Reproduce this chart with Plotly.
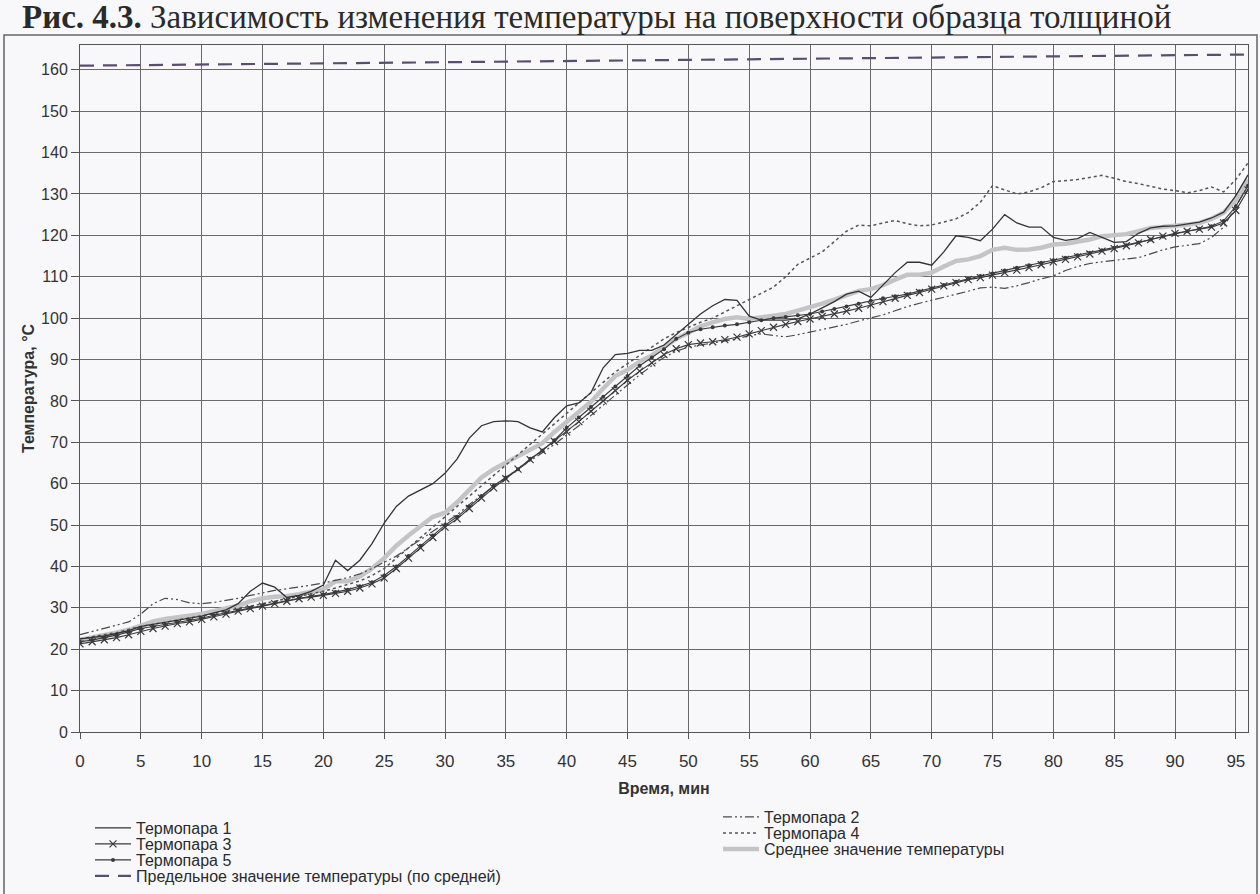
import plotly.graph_objects as go

minutes = list(range(0, 97))

t1 = [22.5, 22.8, 23.2, 23.8, 24.5, 25.5, 26.0, 26.5, 27.0, 27.5,
      28.0, 28.8, 29.5, 31.0, 34.0, 36.0, 35.0, 32.5, 33.0, 34.0,
      35.5, 41.5, 39.0, 41.5, 45.5, 50.5, 54.5, 57.0, 58.5, 60.0,
      62.5, 66.0, 71.0, 74.0, 75.0, 75.2, 75.0, 73.5, 72.5, 76.0,
      78.8, 79.5, 82.0, 88.0, 91.2, 91.5, 92.2, 92.2, 93.5, 96.0,
      98.5, 101.0, 103.0, 104.5, 104.3, 100.5, 99.5, 99.5, 99.5, 99.8,
      101.0, 102.5, 104.0, 105.8, 106.5, 105.0, 108.0, 111.0, 113.5, 113.5,
      112.8, 116.0, 119.9, 119.5, 118.7, 121.5, 125.0, 123.0, 122.0, 122.0,
      119.5, 118.8, 119.2, 120.7, 119.5, 118.3, 118.5, 120.5, 121.8, 122.2,
      122.3, 122.7, 123.2, 124.2, 125.6, 129.6, 134.6]

t2 = [23.5, 24.3, 25.0, 25.8, 26.6, 28.5, 31.0, 32.3, 32.0, 31.2,
      31.0, 31.3, 31.8, 32.3, 33.0, 33.6, 34.2, 34.6, 35.0, 35.5,
      36.0, 36.6, 37.3, 38.2, 39.5, 41.0, 42.5, 44.5, 46.5, 48.5,
      50.5, 52.5, 55.0, 57.2, 59.5, 61.5, 63.5, 65.5, 67.5, 69.5,
      71.8, 74.0, 76.5, 79.0, 81.5, 84.0, 86.3, 88.5, 90.5, 92.0,
      93.0, 93.5, 94.0, 94.5, 95.0, 95.8, 96.2, 95.8, 95.5, 96.0,
      96.6, 97.2, 97.8, 98.5, 99.3, 100.0, 100.8, 101.8, 102.8, 103.6,
      104.3, 105.0, 105.8, 106.5, 107.3, 107.5, 107.2, 107.8, 108.6, 109.5,
      110.2, 111.5, 112.5, 113.2, 113.6, 114.0, 114.3, 114.6, 115.5, 116.5,
      117.2, 117.6, 118.0, 119.5, 122.0, 127.0, 132.0]

t3 = [21.3, 21.8, 22.3, 22.8, 23.5, 24.3, 25.0, 25.6, 26.2, 26.6,
      27.2, 27.8, 28.5, 29.2, 29.8, 30.4, 31.0, 31.6, 32.2, 32.6,
      33.0, 33.5, 34.0, 34.8, 35.8, 37.2, 39.5, 42.0, 44.5, 47.0,
      49.5, 51.5, 54.0, 56.5, 59.0, 61.2, 63.5, 65.8, 68.0, 70.2,
      72.5, 75.0, 77.5, 80.0, 82.5, 85.0, 87.2, 89.2, 91.2, 92.6,
      93.6, 94.0, 94.3, 94.8, 95.4, 96.2, 97.0, 97.8, 98.5, 99.2,
      99.8, 100.4, 101.0, 101.7, 102.4, 103.2, 104.0, 104.8, 105.5, 106.2,
      107.0, 107.8, 108.6, 109.3, 109.8, 110.4, 111.0, 111.6, 112.2, 112.9,
      113.6, 114.2, 114.8, 115.5, 116.2, 116.8, 117.5, 118.2, 119.0, 119.8,
      120.5, 121.0, 121.5, 122.0, 123.0, 126.0, 131.0]

t4 = [22.5, 23.0, 23.5, 24.0, 24.8, 25.5, 26.0, 26.5, 27.0, 27.5,
      28.0, 28.6, 29.2, 29.8, 30.4, 31.0, 31.6, 32.2, 32.8, 33.4,
      34.0, 34.8, 35.6, 36.5, 37.8, 39.5, 42.0, 44.5, 47.0, 49.5,
      52.0, 54.5, 57.0, 59.5, 62.0, 64.5, 67.0, 69.5, 72.0, 74.5,
      77.0, 79.5, 82.0, 84.5, 87.0, 89.0, 91.0, 93.0, 95.0, 96.5,
      97.8, 99.0, 100.0, 101.5, 103.0, 104.5, 106.0, 107.5, 110.0, 113.0,
      114.5, 116.0, 118.5, 121.0, 122.5, 122.3, 123.0, 123.6, 122.8, 122.3,
      122.5, 123.3, 124.0, 125.5, 128.0, 132.0, 131.0, 130.0, 130.5, 131.5,
      133.0, 133.3, 133.5, 134.0, 134.5, 133.8, 133.0, 132.5, 131.8, 131.2,
      130.8, 130.3, 130.8, 131.7, 130.5, 133.5, 137.5]

t5 = [21.8, 22.2, 22.8, 23.4, 24.2, 25.0, 25.5, 26.0, 26.6, 27.0,
      27.5, 28.2, 28.8, 29.4, 30.0, 30.6, 31.2, 31.8, 32.3, 32.8,
      33.2, 33.8, 34.4, 35.2, 36.2, 37.8, 40.0, 42.5, 45.0, 47.5,
      50.0, 52.0, 54.5, 57.0, 59.5, 61.5, 63.5, 66.0, 68.0, 70.5,
      73.5, 76.0, 78.5, 81.0, 83.5, 86.0, 88.5, 90.5, 92.5, 95.0,
      96.5, 97.3, 97.8, 98.2, 98.5, 99.0, 99.5, 100.0, 100.3, 100.7,
      101.0, 101.6, 102.2, 102.8, 103.5, 104.2, 104.8, 105.3, 105.8, 106.5,
      107.2, 108.0, 108.8, 109.5, 110.2, 110.8, 111.5, 112.2, 112.8, 113.4,
      114.0, 114.6, 115.2, 115.8, 116.4, 117.0, 117.6, 118.3, 119.0, 119.7,
      120.4, 121.0, 121.6, 122.2, 123.5, 127.0, 132.0]

avg = [22.3, 22.8, 23.4, 24.0, 24.7, 25.8, 26.7, 27.3, 27.7, 28.0,
       28.5, 29.2, 29.8, 30.5, 31.6, 32.3, 32.7, 32.8, 33.3, 33.9,
       34.5, 36.4, 36.4, 37.6, 39.5, 42.0, 45.0, 47.5, 49.8, 52.0,
       53.0, 55.5, 58.5, 61.5, 63.5, 65.0, 66.8, 68.3, 69.8, 72.5,
       75.0, 77.2, 79.8, 83.0, 86.0, 87.5, 89.5, 91.0, 93.0, 95.0,
       96.5, 98.0, 99.0, 99.8, 100.2, 99.8, 100.2, 100.5, 101.0, 101.8,
       102.6, 103.5, 104.5, 105.6, 106.6, 107.0, 108.0, 109.3, 110.5, 110.5,
       111.0, 112.5, 113.8, 114.2, 115.0, 116.5, 117.0, 116.5, 116.6, 117.0,
       117.8, 118.0, 118.5, 119.0, 119.8, 120.0, 120.3, 121.0, 121.8, 122.0,
       122.2, 122.6, 123.0, 124.0, 125.5, 128.5, 133.5]

limit_minutes = [0, 96]
limit = [161.0, 163.7]

x_ticks = list(range(0, 96, 5))
y_ticks = list(range(0, 161, 10))

names = {
    "t1": "Термопара 1", "t2": "Термопара 2", "t3": "Термопара 3",
    "t4": "Термопара 4", "t5": "Термопара 5",
    "avg": "Среднее значение температуры",
    "lim": "Предельное значение температуры (по средней)",
}

# layout geometry (pixels)
W, H = 1260, 894
ML, MR, MT, MB = 80, 12, 45, 162
PW, PH = W - ML - MR, H - MT - MB


def px_x(px):
    return (px - ML) / PW


def px_y(py):
    return (H - MB - py) / PH


ink = "#3a3a3a"
fig = go.Figure()

fig.add_trace(go.Scatter(x=minutes, y=avg, name=names["avg"], mode="lines",
                         line=dict(color="#c4c4c6", width=4.5), legend="legend7"))
fig.add_trace(go.Scatter(x=minutes, y=t2, name=names["t2"], mode="lines",
                         line=dict(color="#4a4a4a", width=1.2, dash="9px,3px,2px,3px,2px,3px"),
                         legend="legend5"))
fig.add_trace(go.Scatter(x=minutes, y=t4, name=names["t4"], mode="lines",
                         line=dict(color="#555555", width=1.5, dash="3px,3px"),
                         legend="legend6"))
fig.add_trace(go.Scatter(x=minutes, y=t3, name=names["t3"], mode="lines+markers",
                         line=dict(color=ink, width=1.1),
                         marker=dict(symbol="x-thin", size=7, line=dict(width=1.2, color=ink)),
                         legend="legend2"))
fig.add_trace(go.Scatter(x=minutes, y=t5, name=names["t5"], mode="lines+markers",
                         line=dict(color=ink, width=1.1),
                         marker=dict(symbol="circle", size=4, color=ink),
                         legend="legend3"))
fig.add_trace(go.Scatter(x=minutes, y=t1, name=names["t1"], mode="lines",
                         line=dict(color="#333333", width=1.3), legend="legend"))
fig.add_trace(go.Scatter(x=limit_minutes, y=limit, name=names["lim"], mode="lines",
                         line=dict(color="#5a4e6e", width=2.2, dash="14px,9px"),
                         legend="legend4"))

leg_font = dict(family="Liberation Sans, Arial, sans-serif", size=16, color="#2a2a2a")


def leg(px, py):
    return dict(x=px_x(px), y=px_y(py), xanchor="left", yanchor="middle",
                bgcolor="rgba(0,0,0,0)", borderwidth=0, font=leg_font,
                itemwidth=36)


fig.update_layout(
    width=W, height=H,
    margin=dict(l=ML, r=MR, t=MT, b=MB, autoexpand=False),
    paper_bgcolor="#f8f8fa", plot_bgcolor="#f8f8fa",
    font=dict(family="Liberation Sans, Arial, sans-serif", color="#333333"),
    showlegend=True,
    legend=leg(90, 828),
    legend2=leg(90, 844),
    legend3=leg(90, 860),
    legend4=leg(90, 876),
    legend5=leg(718, 817),
    legend6=leg(718, 833),
    legend7=leg(718, 849),
    xaxis=dict(range=[0, 96], tickvals=x_ticks, ticks="outside", ticklen=6,
               tickcolor="#555", showgrid=True, gridcolor="#6a6a6a", gridwidth=1,
               showline=True, linecolor="#555", linewidth=1, mirror=True,
               zeroline=False, tickfont=dict(size=17, color="#333"),
               ticklabelstandoff=8,
               title=dict(text="<b>Время, мин</b>", font=dict(size=16, color="#333"),
                          standoff=12)),
    yaxis=dict(range=[0, 166], tickvals=y_ticks, ticks="outside", ticklen=8,
               tickcolor="#555", showgrid=True, gridcolor="#6a6a6a", gridwidth=1,
               showline=True, linecolor="#555", linewidth=1, mirror=True,
               zeroline=False, tickfont=dict(size=16, color="#333"),
               title=dict(text="<b>Температура, °С</b>", font=dict(size=16, color="#333"),
                          standoff=2)),
    annotations=[dict(
        text="<b>Рис. 4.3.</b> Зависимость изменения температуры на поверхности образца толщиной",
        xref="paper", yref="paper", x=px_x(20), y=px_y(17), xanchor="left", yanchor="middle",
        showarrow=False, font=dict(family="Liberation Serif, Times New Roman, serif", size=33,
                                   color="#2a2a2a"))],
    shapes=[dict(type="rect", xref="paper", yref="paper",
                 x0=px_x(4), x1=px_x(1257), y0=px_y(900), y1=px_y(35),
                 line=dict(color="#666", width=1.5), fillcolor="rgba(0,0,0,0)", layer="below")],
)

fig.write_html("out.html")
